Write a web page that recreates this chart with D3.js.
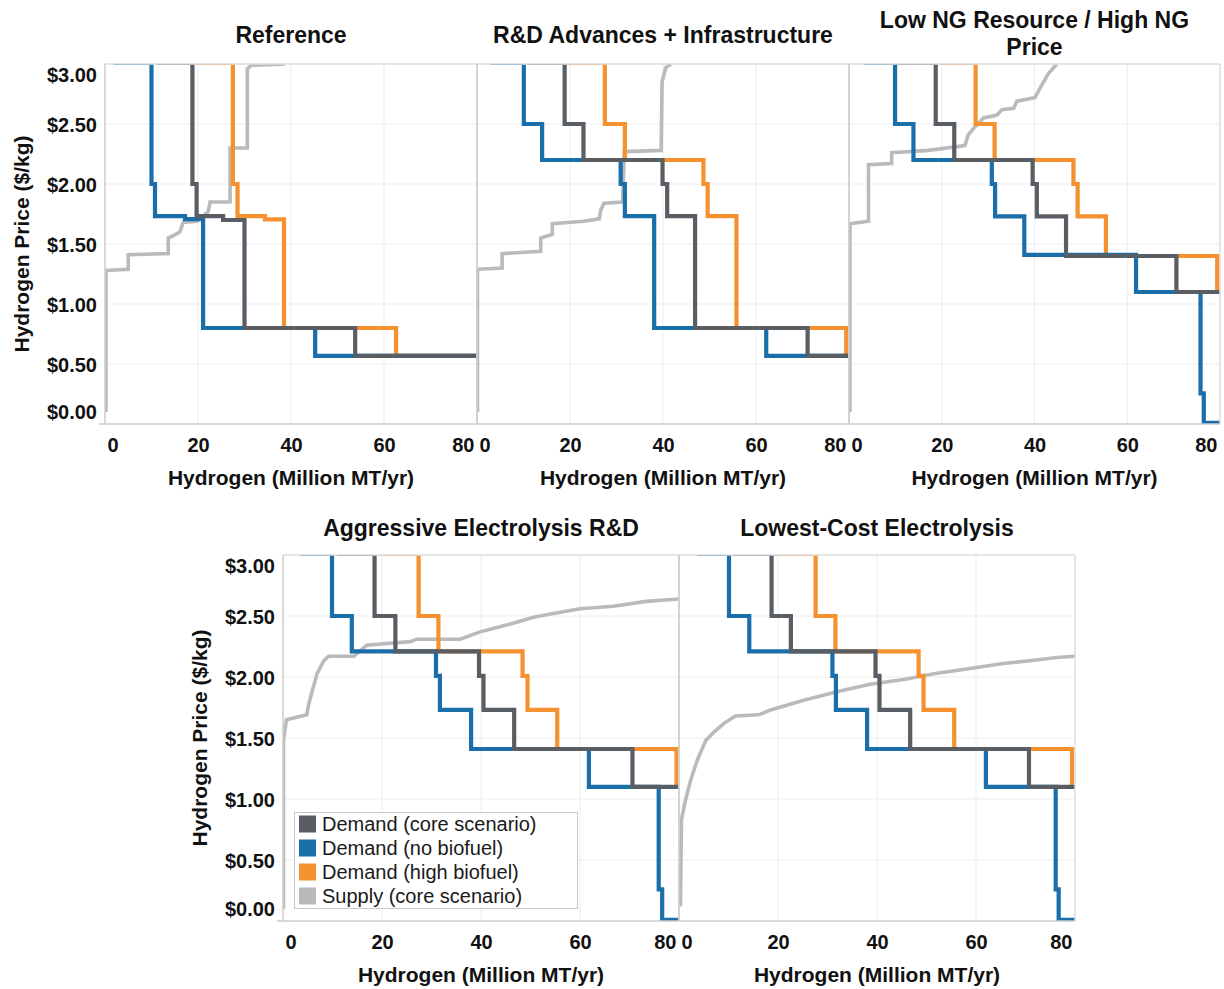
<!DOCTYPE html>
<html><head><meta charset="utf-8">
<script src="https://cdn.jsdelivr.net/npm/d3@7"></script>
<style>
body{margin:0;background:#fff}
svg{display:block}
text{font-family:"Liberation Sans",Arial,Helvetica,sans-serif}
</style>
</head><body>
<svg id="c" width="1224" height="989"></svg>
<script>
// ---------------- DATA ----------------
const seriesNames = ["Demand (core scenario)", "Demand (no biofuel)", "Demand (high biofuel)", "Supply (core scenario)"];
const seriesColors = ["#595d64", "#1a6faa", "#f5922f", "#b8babc"];
const panelTitles = [
  ["Reference"],
  ["R&D Advances + Infrastructure"],
  ["Low NG Resource / High NG", "Price"],
  ["Aggressive Electrolysis R&D"],
  ["Lowest-Cost Electrolysis"]
];
const xTicks = [0, 20, 40, 60, 80];
const yTicks = [0, 0.5, 1, 1.5, 2, 2.5, 3];
const xTitle = "Hydrogen (Million MT/yr)";
const yTitle = "Hydrogen Price ($/kg)";

// [quantity (Million MT/yr), price ($/kg)]
// Reference
const ref_core  = [[11.1,3.01],[18.8,3.01],[18.8,2.0],[19.7,2.0],[19.7,1.733],[25.4,1.733],[25.4,1.70],[30.0,1.70],[30.0,0.80],[53.8,0.80],[53.8,0.567],[82,0.567]];
const ref_nobio = [[1.8,3.01],[10.0,3.01],[10.0,2.0],[10.75,2.0],[10.75,1.733],[17.2,1.733],[17.2,1.708],[21.1,1.708],[21.1,0.80],[45.2,0.80],[45.2,0.567],[82,0.567]];
const ref_high  = [[19.4,3.01],[27.5,3.01],[27.5,2.0],[28.5,2.0],[28.5,1.733],[34.4,1.733],[34.4,1.705],[38.5,1.705],[38.5,0.80],[62.6,0.80],[62.6,0.567],[82,0.567]];
const ref_supply = [[0.2,0.10],[0.2,1.28],[5.0,1.29],[5.0,1.41],[13.6,1.42],[13.6,1.55],[14.7,1.57],[16.1,1.60],[16.8,1.68],[19.7,1.69],[22.2,1.77],[22.6,1.85],[26.9,1.85],[26.9,2.30],[30.6,2.30],[30.6,2.96],[31.5,2.99],[38.7,3.0]];

// R&D Advances + Infrastructure
const rd_core  = [[10.8,3.01],[18.85,3.01],[18.85,2.5],[22.9,2.5],[22.9,2.2],[39.9,2.2],[39.9,2.0],[40.9,2.0],[40.9,1.733],[46.9,1.733],[46.9,0.80],[71.1,0.80],[71.1,0.567],[82,0.567]];
const rd_nobio = [[2.9,3.01],[10.07,3.01],[10.07,2.5],[14.0,2.5],[14.0,2.2],[30.9,2.2],[30.9,2.0],[31.8,2.0],[31.8,1.733],[38.1,1.733],[38.1,0.80],[62.2,0.80],[62.2,0.567],[82,0.567]];
const rd_high  = [[19.4,3.01],[27.5,3.01],[27.5,2.5],[31.8,2.5],[31.8,2.2],[48.7,2.2],[48.7,2.0],[49.6,2.0],[49.6,1.733],[55.8,1.733],[55.8,0.80],[79.4,0.80],[79.4,0.567],[82,0.567]];
const rd_supply = [[0.1,0.10],[0.1,1.29],[5.4,1.30],[5.4,1.42],[13.7,1.44],[13.7,1.55],[16.2,1.58],[16.2,1.67],[23.0,1.69],[26.3,1.71],[26.6,1.78],[27.3,1.84],[31.3,1.85],[31.7,2.27],[39.6,2.28],[39.8,2.85],[40.6,2.97],[41.7,3.0]];

// Low NG Resource / High NG Price
const ng_core  = [[10.3,3.01],[18.7,3.01],[18.7,2.5],[22.7,2.5],[22.7,2.2],[39.6,2.2],[39.6,2.0],[40.5,2.0],[40.5,1.73],[46.8,1.73],[46.8,1.40],[70.6,1.40],[70.6,1.10],[82,1.10]];
const ng_nobio = [[3.1,3.01],[9.93,3.01],[9.93,2.5],[13.9,2.5],[13.9,2.2],[30.8,2.2],[30.8,2.0],[31.5,2.0],[31.5,1.73],[37.8,1.73],[37.8,1.41],[61.9,1.41],[61.9,1.10],[75.8,1.10],[75.8,0.256],[76.5,0.256],[76.5,0.01],[82,0.01]];
const ng_high  = [[19.6,3.01],[27.3,3.01],[27.3,2.5],[31.4,2.5],[31.4,2.2],[48.4,2.2],[48.4,2.0],[49.3,2.0],[49.3,1.73],[55.4,1.73],[55.4,1.40],[79.4,1.40],[79.4,1.10],[82,1.10]];
const ng_supply = [[0.2,0.10],[0.2,1.67],[4.2,1.69],[4.2,2.16],[9.2,2.17],[9.2,2.26],[17.1,2.28],[25.0,2.32],[25.7,2.41],[26.8,2.46],[29.0,2.55],[31.9,2.575],[33.0,2.62],[35.5,2.63],[36.2,2.69],[40.1,2.72],[41.2,2.80],[43.0,2.92],[44.8,3.0]];

// Aggressive Electrolysis R&D
const ae_core  = [[10.9,3.01],[18.5,3.01],[18.5,2.5],[22.7,2.5],[22.7,2.21],[39.6,2.21],[39.6,2.01],[40.5,2.01],[40.5,1.73],[46.7,1.73],[46.7,1.41],[70.6,1.41],[70.6,1.10],[82,1.10]];
const ae_nobio = [[3.5,3.01],[9.9,3.01],[9.9,2.5],[13.9,2.5],[13.9,2.21],[30.9,2.21],[30.9,2.01],[31.7,2.01],[31.7,1.73],[38.0,1.73],[38.0,1.41],[61.8,1.41],[61.8,1.10],[75.9,1.10],[75.9,0.26],[76.6,0.26],[76.6,0.01],[82,0.01]];
const ae_high  = [[19.6,3.01],[27.4,3.01],[27.4,2.5],[31.4,2.5],[31.4,2.21],[48.4,2.21],[48.4,2.01],[49.4,2.01],[49.4,1.73],[55.4,1.73],[55.4,1.41],[79.5,1.41],[79.5,1.10],[82,1.10]];
const ae_supply = [[0.1,0.10],[0.1,1.48],[0.7,1.65],[4.8,1.69],[5.1,1.76],[5.6,1.84],[6.9,2.03],[8.2,2.13],[9.2,2.17],[14.3,2.17],[16.9,2.26],[25.7,2.29],[27.0,2.31],[35.8,2.31],[39.8,2.37],[46.5,2.44],[50.6,2.49],[53.2,2.51],[60.0,2.56],[66.7,2.58],[73.4,2.62],[80,2.64]];

// Lowest-Cost Electrolysis
const lc_core  = [[10.8,3.01],[18.7,3.01],[18.7,2.5],[22.6,2.5],[22.6,2.21],[39.7,2.21],[39.7,2.01],[40.5,2.01],[40.5,1.73],[46.7,1.73],[46.7,1.41],[70.7,1.41],[70.7,1.10],[82,1.10]];
const lc_nobio = [[3.7,3.01],[10.1,3.01],[10.1,2.5],[14.2,2.5],[14.2,2.21],[31.0,2.21],[31.0,2.01],[31.7,2.01],[31.7,1.73],[38.0,1.73],[38.0,1.41],[62.0,1.41],[62.0,1.10],[76.1,1.10],[76.1,0.26],[76.7,0.26],[76.7,0.01],[82,0.01]];
const lc_high  = [[19.2,3.01],[27.6,3.01],[27.6,2.5],[31.6,2.5],[31.6,2.21],[48.4,2.21],[48.4,2.01],[49.4,2.01],[49.4,1.73],[55.6,1.73],[55.6,1.41],[79.4,1.41],[79.4,1.10],[82,1.10]];
const lc_supply = [[0.3,0.12],[0.5,0.83],[1.3,0.99],[2.4,1.16],[3.7,1.32],[5.4,1.48],[7.1,1.55],[9.1,1.62],[11.4,1.68],[16.1,1.69],[18.5,1.73],[25.2,1.81],[31.9,1.88],[38.6,1.94],[45.4,1.98],[52.1,2.03],[58.8,2.07],[65.5,2.11],[72.2,2.14],[76.3,2.16],[80,2.17]];

// ---------------- LAYOUT ----------------
const panels = [
  {title: panelTitles[0], series: [ref_core, ref_nobio, ref_high, ref_supply], x0: 105, x1: 477, y0: 64, y1: 424, yAxis: true, titleY: 43},
  {title: panelTitles[1], series: [rd_core, rd_nobio, rd_high, rd_supply], x0: 477, x1: 849, y0: 64, y1: 424, yAxis: false, titleY: 43},
  {title: panelTitles[2], series: [ng_core, ng_nobio, ng_high, ng_supply], x0: 849, x1: 1220, y0: 64, y1: 424, yAxis: false, titleY: 28},
  {title: panelTitles[3], series: [ae_core, ae_nobio, ae_high, ae_supply], x0: 283, x1: 679, y0: 555, y1: 921, yAxis: true, legend: true, titleY: 536},
  {title: panelTitles[4], series: [lc_core, lc_nobio, lc_high, lc_supply], x0: 679, x1: 1075, y0: 555, y1: 921, yAxis: false, titleY: 536}
];

const svg = d3.select("#c");
svg.append("rect").attr("width", 1224).attr("height", 989).attr("fill", "#fff");
const defs = svg.append("defs");
const drawOrder = [3, 2, 1, 0]; // supply, high, no biofuel, core on top

panels.forEach((p, i) => {
  const x = d3.scaleLinear().domain([0, 80]).range([p.x0, p.x1]);
  const y = d3.scaleLinear().domain([0, 3]).range([p.y1, p.y0]);
  const g = svg.append("g");
  const cx = (p.x0 + p.x1) / 2;

  defs.append("clipPath").attr("id", "clip" + i).append("rect")
    .attr("x", p.x0).attr("y", p.y0).attr("width", p.x1 - p.x0).attr("height", p.y1 - p.y0);

  // gridlines
  g.append("g").selectAll("line").data(xTicks.filter(t => t > 0 && t < 80)).join("line")
    .attr("x1", d => x(d)).attr("x2", d => x(d)).attr("y1", p.y0).attr("y2", p.y1)
    .attr("stroke", "#ededed").attr("stroke-width", 1);
  g.append("g").selectAll("line").data(yTicks.filter(t => t > 0 && t < 3)).join("line")
    .attr("x1", p.x0).attr("x2", p.x1).attr("y1", d => y(d)).attr("y2", d => y(d))
    .attr("stroke", "#ededed").attr("stroke-width", 1);

  // lines
  const line = d3.line().x(d => x(d[0])).y(d => y(d[1]));
  const lg = g.append("g").attr("clip-path", `url(#clip${i})`);
  drawOrder.forEach(k => {
    lg.append("path").datum(p.series[k]).attr("d", line)
      .attr("fill", "none").attr("stroke", seriesColors[k])
      .attr("stroke-width", k === 3 ? 3.6 : 4.2)
      .attr("stroke-linejoin", "miter").attr("stroke-linecap", "butt");
  });

  // frame
  g.append("line").attr("x1", p.x0).attr("x2", p.x1).attr("y1", p.y0).attr("y2", p.y0).attr("stroke", "#dcdcdc").attr("stroke-width", 1.5);
  g.append("line").attr("x1", p.x1).attr("x2", p.x1).attr("y1", p.y0).attr("y2", p.y1).attr("stroke", "#dcdcdc").attr("stroke-width", 1.5);
  g.append("line").attr("x1", p.x0).attr("x2", p.x0).attr("y1", p.y0).attr("y2", p.y1).attr("stroke", "#cccccc").attr("stroke-width", 1.5);
  g.append("line").attr("x1", p.x0 - (p.yAxis ? 6 : 0)).attr("x2", p.x1).attr("y1", p.y1).attr("y2", p.y1).attr("stroke", "#cccccc").attr("stroke-width", 1.5);

  // x axis
  const xa = g.append("g").attr("transform", `translate(0,${p.y1})`)
    .call(d3.axisBottom(x).tickValues(xTicks).tickSize(0).tickFormat(d3.format("d")));
  xa.select(".domain").remove();
  xa.selectAll("text")
    .attr("y", 21).attr("dy", "0.35em")
    .attr("font-size", 20).attr("font-weight", "bold").attr("fill", "#111")
    .attr("font-family", '"Liberation Sans", Arial, sans-serif')
    .attr("text-anchor", d => d === 0 ? "start" : (d === 80 ? "end" : "middle"))
    .attr("x", d => d === 0 ? 2 : (d === 80 ? -3 : 0));

  // y axis
  if (p.yAxis) {
    const ya = g.append("g").attr("transform", `translate(${p.x0},0)`)
      .call(d3.axisLeft(y).tickValues(yTicks).tickSize(0).tickFormat(d => "$" + d.toFixed(2)));
    ya.select(".domain").remove();
    ya.selectAll("text")
      .attr("x", -8).attr("dy", "0.35em")
      .attr("y", d => d === 3 ? 10.5 : (d === 0 ? -12.5 : 0))
      .attr("font-size", 20).attr("font-weight", "bold").attr("fill", "#111")
      .attr("font-family", '"Liberation Sans", Arial, sans-serif')
      .attr("text-anchor", "end");
    const ymid = (p.y0 + p.y1) / 2;
    g.append("text").attr("transform", `translate(${p.x0 - 83},${ymid}) rotate(-90)`)
      .attr("text-anchor", "middle").attr("dy", "0.35em")
      .attr("font-size", 21).attr("font-weight", "bold").attr("fill", "#111")
      .text(yTitle);
  }

  // x title
  g.append("text").attr("x", cx).attr("y", p.y1 + 61)
    .attr("text-anchor", "middle").attr("font-size", 21).attr("font-weight", "bold").attr("fill", "#111")
    .text(xTitle);

  // panel title
  g.append("g").selectAll("text").data(p.title).join("text")
    .attr("x", cx).attr("y", (d, j) => p.titleY + j * 27)
    .attr("text-anchor", "middle").attr("font-size", 23).attr("font-weight", "bold").attr("fill", "#111")
    .text(d => d);

  // legend
  if (p.legend) {
    const lgd = svg.append("g");
    lgd.append("rect").attr("x", 294.5).attr("y", 812.5).attr("width", 283).attr("height", 96)
      .attr("fill", "#fff").attr("stroke", "#c8c8c8").attr("stroke-width", 1);
    const rows = lgd.selectAll("g.row").data(seriesNames).join("g")
      .attr("transform", (d, j) => `translate(299,${824 + j * 24})`);
    rows.append("rect").attr("x", 0).attr("y", -8.5).attr("width", 17).attr("height", 17)
      .attr("fill", (d, j) => seriesColors[j]);
    rows.append("text").attr("x", 23).attr("dy", "0.35em").attr("font-size", 20).attr("fill", "#1a1a1a")
      .text(d => d);
  }
});
</script>
</body></html>
